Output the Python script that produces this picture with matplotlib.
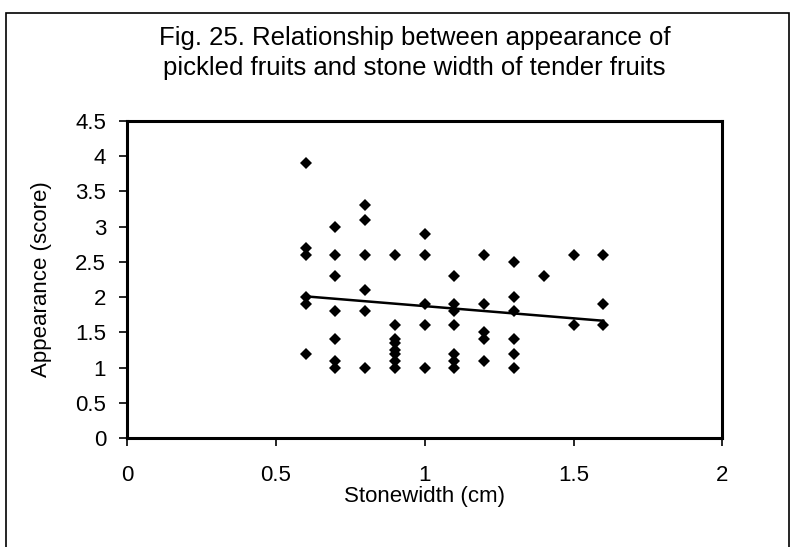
import numpy as np
import matplotlib.pyplot as plt
from matplotlib.patches import Rectangle

plt.rcParams['font.family'] = ['Liberation Sans', 'DejaVu Sans']

# data, one line per stone width column
stone_width = [0.6] * 6 + [0.7] * 7 + [0.8] * 6 + [0.9] * 8 + [1.0] * 5 \
    + [1.1] * 7 + [1.2] * 5 + [1.3] * 6 + [1.4] * 1 + [1.5] * 2 + [1.6] * 3
appearance = [3.9, 2.7, 2.6, 2.0, 1.9, 1.2,
              3.0, 2.6, 2.3, 1.8, 1.4, 1.1, 1.0,
              3.3, 3.1, 2.6, 2.1, 1.8, 1.0,
              2.6, 1.6, 1.4, 1.35, 1.25, 1.2, 1.1, 1.0,
              2.9, 2.6, 1.9, 1.6, 1.0,
              2.3, 1.9, 1.8, 1.6, 1.2, 1.1, 1.0,
              2.6, 1.9, 1.5, 1.4, 1.1,
              2.5, 2.0, 1.8, 1.4, 1.2, 1.0,
              2.3,
              2.6, 1.6,
              2.6, 1.9, 1.6]

x_ticks = [0, 0.5, 1, 1.5, 2]
x_tick_labels = ['0', '0.5', '1', '1.5', '2']
y_ticks = [0, 0.5, 1, 1.5, 2, 2.5, 3, 3.5, 4, 4.5]
y_tick_labels = ['0', '0.5', '1', '1.5', '2', '2.5', '3', '3.5', '4', '4.5']

title = 'Fig. 25. Relationship between appearance of\npickled fruits and stone width of tender fruits'

x = np.array(stone_width)
y = np.array(appearance)

fig = plt.figure(figsize=(7.96, 5.47), dpi=100)
ax = fig.add_axes([0.1595, 0.199, 0.748, 0.58])

ax.plot(x, y, 'D', color='black', markersize=6.3, markeredgewidth=0)

# linear trend line over the data range
slope, icpt = np.polyfit(x, y, 1)
xs = np.array([x.min(), x.max()])
ax.plot(xs, slope * xs + icpt, color='black', linewidth=1.8)

ax.set_xlim(0, 2)
ax.set_ylim(0, 4.5)
ax.set_xticks(x_ticks)
ax.set_xticklabels(x_tick_labels)
ax.set_yticks(y_ticks)
ax.set_yticklabels(y_tick_labels)
ax.tick_params(axis='both', direction='out', length=6, width=1.2, labelsize=16, colors='black')
ax.tick_params(axis='x', pad=13)
ax.tick_params(axis='y', pad=9)
for s in ax.spines.values():
    s.set_linewidth(2.2)
    s.set_color('black')

ax.set_xlabel('Stonewidth (cm)', fontsize=16, labelpad=0)
ax.set_ylabel('Appearance (score)', fontsize=16)
ax.yaxis.set_label_coords(-0.126, 0.5)

fig.text(0.521, 0.903, title, ha='center', va='center', fontsize=18.5, linespacing=1.3)

# outer chart border
fig.patches.append(Rectangle((0.008, -0.1), 0.983, 1.076, transform=fig.transFigure,
                             fill=False, edgecolor='black', linewidth=1.2))

fig.savefig('out.png', dpi=100)
